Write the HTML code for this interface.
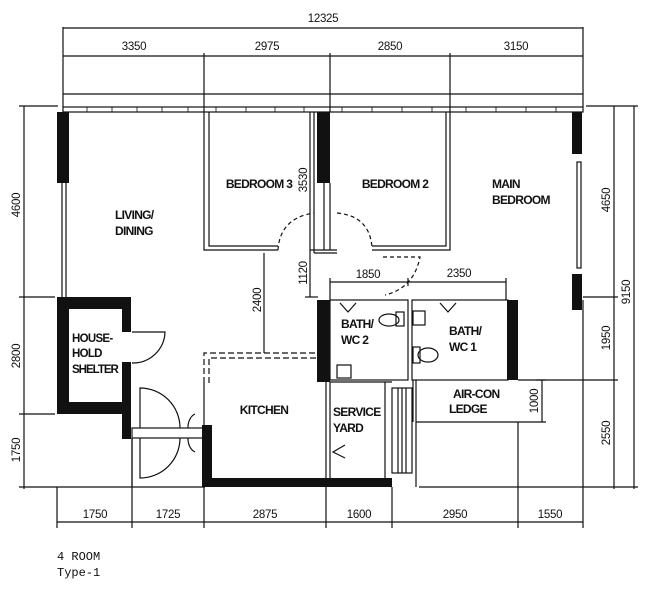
<!DOCTYPE html>
<html><head><meta charset="utf-8"><style>
html,body{margin:0;padding:0;background:#fff;}
svg{display:block;}
text{font-family:"Liberation Sans Narrow","Liberation Sans",sans-serif;fill:#111;}
.l{font-weight:bold;font-size:12px;letter-spacing:-0.7px;}
.d{font-size:11.5px;letter-spacing:-0.3px;}
</style></head><body>
<svg width="648" height="600" viewBox="0 0 648 600" xmlns="http://www.w3.org/2000/svg">
<g stroke="#111" stroke-width="1.2" fill="none">
<line x1="63" y1="28" x2="583" y2="28"/>
<line x1="63" y1="56" x2="583" y2="56"/>
<line x1="63" y1="94" x2="583" y2="94"/>
<line x1="63" y1="27" x2="63" y2="107"/>
<line x1="583" y1="27" x2="583" y2="107"/>
<line x1="204" y1="53" x2="204" y2="112"/>
<line x1="330" y1="53" x2="330" y2="112"/>
<line x1="450" y1="53" x2="450" y2="112"/>
<rect x="63" y="107" width="520" height="5"/>
<line x1="24" y1="106" x2="24" y2="489"/>
<line x1="19" y1="106" x2="58" y2="106"/>
<line x1="19" y1="297" x2="55" y2="297"/>
<line x1="19" y1="414" x2="55" y2="414"/>
<line x1="19" y1="487" x2="205" y2="487"/>
<line x1="614" y1="106" x2="614" y2="489"/>
<line x1="634" y1="106" x2="634" y2="489"/>
<line x1="586" y1="106" x2="638" y2="106"/>
<line x1="583" y1="297" x2="618" y2="297"/>
<line x1="518" y1="380" x2="618" y2="380"/>
<line x1="419" y1="487" x2="638" y2="487"/>
<line x1="536" y1="380" x2="546" y2="380"/>
<line x1="542" y1="380" x2="542" y2="422"/>
<line x1="518" y1="422" x2="546" y2="422"/>
<line x1="57" y1="522" x2="583" y2="522"/>
<line x1="57" y1="487" x2="57" y2="528"/>
<line x1="132" y1="438" x2="132" y2="528"/>
<line x1="204" y1="487" x2="204" y2="528"/>
<line x1="326" y1="487" x2="326" y2="528"/>
<line x1="392" y1="487" x2="392" y2="528"/>
<line x1="518" y1="422" x2="518" y2="528"/>
<line x1="583" y1="300" x2="583" y2="528"/>
<line x1="62" y1="183" x2="62" y2="297"/>
<line x1="66" y1="183" x2="66" y2="297"/>
<path d="M204 112 V250 H278 M209 112 V246 H278"/>
<path d="M278 250 Q280 218 314 213" stroke-dasharray="4 3"/>
<line x1="310" y1="112" x2="310" y2="253"/>
<line x1="314" y1="112" x2="314" y2="253"/>
<path d="M314 253 H337 M310 250 H337"/>
<line x1="324" y1="183" x2="324" y2="250"/>
<line x1="330" y1="183" x2="330" y2="250"/>
<path d="M446 112 V246 H372 M450 112 V250 H372"/>
<path d="M337 213 Q370 216 372 248" stroke-dasharray="4 3"/>
<path d="M383 257 H420 Q414 288 385 295" stroke-dasharray="4 3"/>
<rect x="577" y="162" width="4" height="106"/>
<line x1="310" y1="253" x2="310" y2="297"/>
<line x1="305" y1="297" x2="318" y2="297"/>
<line x1="264" y1="253" x2="264" y2="353"/>
<line x1="330" y1="282" x2="506" y2="282"/>
<line x1="330" y1="278" x2="330" y2="300"/>
<line x1="408" y1="278" x2="408" y2="286"/>
<line x1="506" y1="278" x2="506" y2="300"/>
<rect x="330" y="300" width="78" height="80"/>
<rect x="412" y="300" width="96" height="80"/>
<path d="M340 303 L348 312 L356 303 M440 303 L448 312 L456 303"/>
<ellipse cx="389" cy="320" rx="10" ry="6"/>
<rect x="396" y="312" width="8" height="14"/>
<rect x="413" y="311" width="12" height="14"/>
<ellipse cx="428" cy="355" rx="10" ry="7"/>
<rect x="413" y="347" width="7" height="16"/>
<rect x="337" y="365" width="14" height="13"/>
<path d="M204 383 V353 H317 M209 383 V358 H317" stroke-dasharray="6 3"/>
<line x1="204" y1="383" x2="204" y2="487"/>
<line x1="326" y1="382" x2="326" y2="487"/>
<line x1="330" y1="382" x2="330" y2="487"/>
<line x1="385" y1="382" x2="385" y2="487"/>
<line x1="330" y1="382" x2="392" y2="382"/>
<path d="M345 445 L333 452 L345 458"/>
<rect x="392" y="388" width="20" height="85"/>
<line x1="398" y1="388" x2="398" y2="473"/>
<line x1="402" y1="388" x2="402" y2="473"/>
<line x1="406" y1="388" x2="406" y2="473"/>
<path d="M416 380 V422 H518 M416 422 V487"/>
<line x1="413" y1="380" x2="413" y2="422"/>
<path d="M132 332 H165 A32 32 0 0 1 132 363"/>
<rect x="132" y="428" width="73" height="10"/>
<path d="M140 428 V388 A40 40 0 0 1 180 428"/>
<path d="M140 438 V478 A40 40 0 0 0 180 438"/>
<path d="M188 428 A10 14 0 0 1 195 414 M188 438 A10 14 0 0 0 195 452"/>
<line x1="132" y1="438" x2="132" y2="487"/>
</g>
<g stroke="#111" stroke-width="0.8">
<line x1="87" y1="107" x2="87" y2="112"/><line x1="112" y1="107" x2="112" y2="112"/><line x1="137" y1="107" x2="137" y2="112"/><line x1="162" y1="107" x2="162" y2="112"/><line x1="188" y1="107" x2="188" y2="112"/>
<line x1="216" y1="107" x2="216" y2="112"/><line x1="246" y1="107" x2="246" y2="112"/><line x1="275" y1="107" x2="275" y2="112"/><line x1="304" y1="107" x2="304" y2="112"/>
<line x1="342" y1="107" x2="342" y2="112"/><line x1="372" y1="107" x2="372" y2="112"/><line x1="402" y1="107" x2="402" y2="112"/><line x1="432" y1="107" x2="432" y2="112"/>
<line x1="466" y1="107" x2="466" y2="112"/><line x1="496" y1="107" x2="496" y2="112"/><line x1="526" y1="107" x2="526" y2="112"/><line x1="556" y1="107" x2="556" y2="112"/>
</g>
<g fill="#111">
<rect x="57" y="112" width="12" height="71"/>
<rect x="317" y="112" width="13" height="71"/>
<rect x="572" y="112" width="10" height="42"/>
<rect x="572" y="274" width="10" height="36"/>
<rect x="317" y="300" width="13" height="82"/>
<rect x="507" y="300" width="11" height="80"/>
<path d="M57 297 H131 V332 H122 V309 H69 V402 H122 V362 H131 V439 H122 V414 H57 Z"/>
<path d="M202 425 H212 V478 H392 V487 H202 Z"/>
</g>
<text class="d" x="323" y="22" text-anchor="middle">12325</text>
<text class="d" x="134" y="50" text-anchor="middle">3350</text>
<text class="d" x="267" y="50" text-anchor="middle">2975</text>
<text class="d" x="390" y="50" text-anchor="middle">2850</text>
<text class="d" x="516" y="50" text-anchor="middle">3150</text>
<text class="d" x="95" y="518" text-anchor="middle">1750</text>
<text class="d" x="168" y="518" text-anchor="middle">1725</text>
<text class="d" x="265" y="518" text-anchor="middle">2875</text>
<text class="d" x="359" y="518" text-anchor="middle">1600</text>
<text class="d" x="455" y="518" text-anchor="middle">2950</text>
<text class="d" x="550" y="518" text-anchor="middle">1550</text>
<text class="d" x="368" y="278" text-anchor="middle">1850</text>
<text class="d" x="459" y="277" text-anchor="middle">2350</text>
<text class="d" transform="translate(20,205) rotate(-90)" text-anchor="middle">4600</text>
<text class="d" transform="translate(20,356) rotate(-90)" text-anchor="middle">2800</text>
<text class="d" transform="translate(20,450) rotate(-90)" text-anchor="middle">1750</text>
<text class="d" transform="translate(610,200) rotate(-90)" text-anchor="middle">4650</text>
<text class="d" transform="translate(610,338) rotate(-90)" text-anchor="middle">1950</text>
<text class="d" transform="translate(610,433) rotate(-90)" text-anchor="middle">2550</text>
<text class="d" transform="translate(630,292) rotate(-90)" text-anchor="middle">9150</text>
<text class="d" transform="translate(538,401) rotate(-90)" text-anchor="middle">1000</text>
<text class="d" transform="translate(307,180) rotate(-90)" text-anchor="middle">3530</text>
<text class="d" transform="translate(307,273) rotate(-90)" text-anchor="middle">1120</text>
<text class="d" transform="translate(261,300) rotate(-90)" text-anchor="middle">2400</text>
<text class="l" x="259" y="188" text-anchor="middle">BEDROOM 3</text>
<text class="l" x="395" y="188" text-anchor="middle">BEDROOM 2</text>
<text class="l" x="492" y="188">MAIN</text>
<text class="l" x="492" y="204">BEDROOM</text>
<text class="l" x="115" y="219">LIVING/</text>
<text class="l" x="115" y="235">DINING</text>
<text class="l" x="72" y="342" style="font-size:11.5px">HOUSE-</text>
<text class="l" x="72" y="357" style="font-size:11.5px">HOLD</text>
<text class="l" x="72" y="373" style="font-size:11.5px;letter-spacing:-1px">SHELTER</text>
<text class="l" x="341" y="328">BATH/</text>
<text class="l" x="341" y="344">WC 2</text>
<text class="l" x="449" y="335">BATH/</text>
<text class="l" x="449" y="351">WC 1</text>
<text class="l" x="264" y="414" text-anchor="middle">KITCHEN</text>
<text class="l" x="333" y="416">SERVICE</text>
<text class="l" x="333" y="432">YARD</text>
<text class="l" x="453" y="398">AIR-CON</text>
<text class="l" x="449" y="413">LEDGE</text>
<text x="57" y="560" style="font-size:12px;font-family:'Liberation Mono',monospace;">4 ROOM</text>
<text x="57" y="576" style="font-size:12px;font-family:'Liberation Mono',monospace;">Type-1</text>
</svg>
</body></html>
